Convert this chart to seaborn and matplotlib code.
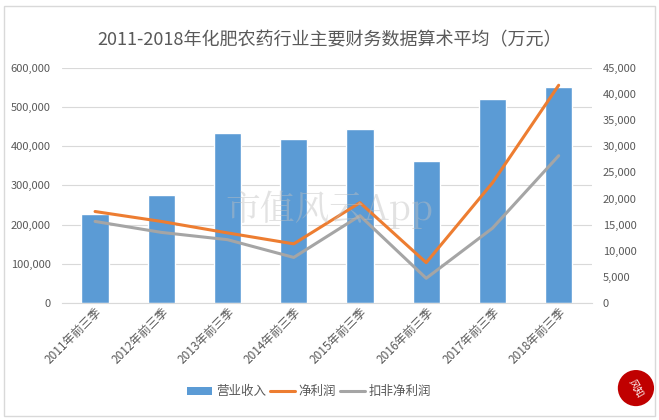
import matplotlib
matplotlib.use("Agg")
import matplotlib.pyplot as plt
import matplotlib.ticker as mticker
from matplotlib.patches import Patch, Rectangle, Ellipse
from matplotlib.lines import Line2D
import seaborn as sns
import pandas as pd

# === 数据 ===
periods = ["2011年前三季", "2012年前三季", "2013年前三季", "2014年前三季",
           "2015年前三季", "2016年前三季", "2017年前三季", "2018年前三季"]
revenue = [227000, 276000, 434000, 419000, 444000, 363000, 521000, 551000]
net_profit = [17500, 15600, 13400, 11300, 19200, 7700, 23000, 41700]
net_profit_adj = [15600, 13500, 12100, 8700, 16700, 4700, 14300, 28200]

df = pd.DataFrame({"period": periods, "revenue": revenue,
                   "net": net_profit, "net_adj": net_profit_adj})

sns.set_style("white")
plt.rcParams['font.family'] = ['Noto Sans CJK SC', 'DejaVu Sans']

blue = "#5B9BD5"
orange = "#ED7D31"
grey = "#A5A5A5"
txt = "#595959"

fig = plt.figure(figsize=(6.59, 4.20), dpi=100)
ax = fig.add_axes([0.094, 0.279, 0.804, 0.559])

sns.barplot(data=df, x="period", y="revenue", color=blue, width=0.41,
            saturation=1, ax=ax, zorder=2)
ax.set_ylim(0, 600000)
ax.set_yticks(range(0, 600001, 100000))
ax.yaxis.set_major_formatter(mticker.FuncFormatter(lambda v, p: f"{int(v):,}"))
ax.grid(axis="y", color="#D9D9D9", linewidth=0.8, zorder=0)
ax.set_axisbelow(True)

ax2 = ax.twinx()
sns.lineplot(data=df, x="period", y="net", color=orange, linewidth=2.2,
             sort=False, ax=ax2)
sns.lineplot(data=df, x="period", y="net_adj", color=grey, linewidth=2.2,
             sort=False, ax=ax2)
ax2.set_ylim(0, 45000)
ax2.set_yticks(range(0, 45001, 5000))
ax2.yaxis.set_major_formatter(mticker.FuncFormatter(lambda v, p: f"{int(v):,}"))

for a in (ax, ax2):
    a.set_xlabel("")
    a.set_ylabel("")
    for s in a.spines.values():
        s.set_visible(False)
    a.tick_params(axis="y", length=0, labelsize=8, labelcolor=txt, pad=8)
ax.spines["bottom"].set_visible(True)
ax.spines["bottom"].set_color("#D9D9D9")
ax.set_xlim(-0.5, 7.5)
ax.tick_params(axis="x", length=0, labelsize=8.5, labelcolor=txt, pad=2)
plt.setp(ax.get_xticklabels(), rotation=45, ha="right", rotation_mode="anchor")

fig.suptitle("2011-2018年化肥农药行业主要财务数据算术平均（万元）",
             y=0.925, fontsize=13, color=txt)

# 水印
fig.text(0.5, 0.5, "市值风云App", fontsize=25, color="#BFBFBF", alpha=0.45,
         ha="center", va="center", family=['Noto Serif CJK SC', 'Noto Sans CJK SC', 'DejaVu Sans'])

handles = [Patch(facecolor=blue, edgecolor="none"),
           Line2D([], [], color=orange, linewidth=2.2),
           Line2D([], [], color=grey, linewidth=2.2)]
leg = fig.legend(handles, ["营业收入", "净利润", "扣非净利润"], loc="center",
                 bbox_to_anchor=(0.469, 0.067), ncol=3, frameon=False,
                 fontsize=9, handlelength=2.0, handletextpad=0.3,
                 columnspacing=0.3)
for t in leg.get_texts():
    t.set_color(txt)

# 外框
fig.patches.append(Rectangle((0.006, 0.01), 0.988, 0.975, transform=fig.transFigure,
                             fill=False, edgecolor="#D9D9D9", linewidth=1))
# 角标
fig.patches.append(Ellipse((0.965, 0.076), 0.055, 0.086, transform=fig.transFigure,
                           facecolor="#C00000", edgecolor="none"))
fig.text(0.965, 0.076, "风知", fontsize=7, color="white", ha="center", va="center",
         rotation=-60)

fig.savefig("out.png", dpi=100)
